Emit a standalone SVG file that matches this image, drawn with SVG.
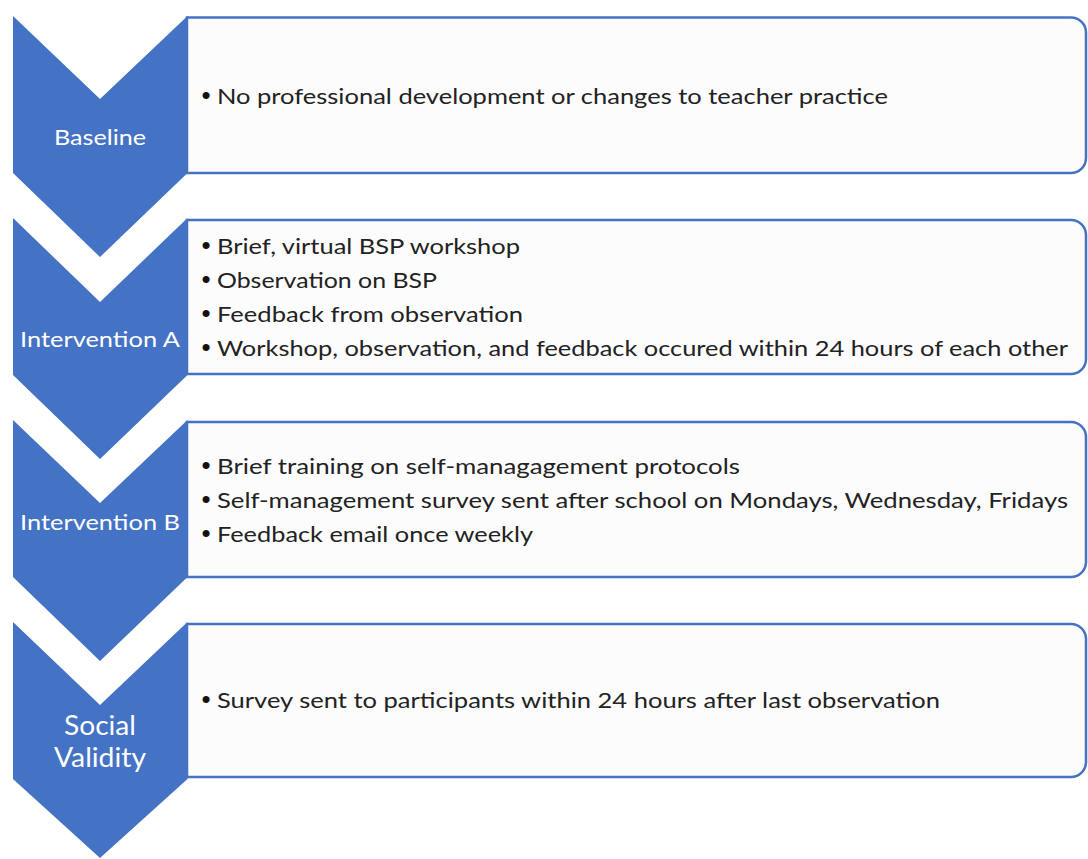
<svg xmlns="http://www.w3.org/2000/svg" width="1088" height="859" viewBox="0 0 1088 859">
  <style>
    .panel { fill: #fcfcfc; stroke: #4472c4; stroke-width: 2.5; }
    .chev { fill: #4472c4; }
    .label { font-family: Lato, "Liberation Sans", sans-serif; font-size: 22px; fill: #ffffff; text-anchor: middle; }
    .label-lg { font-size: 26px; }
    .item { font-family: Lato, "Liberation Sans", sans-serif; font-size: 22px; fill: #222222; }
    .dot { font-family: "Liberation Sans", sans-serif; font-size: 26px; fill: #111111; }
  </style>
  <rect width="1088" height="859" fill="#ffffff"/>

  <!-- Stage: Baseline -->
  <g id="stage-baseline">
    <path class="panel" d="M187,17.5 H1071 A15,15 0 0 1 1086,32.5 V158 A15,15 0 0 1 1071,173 H187 Z"/>
    <path class="chev" d="M13,16 L100,99 L187.5,16 L187.5,173 L100,257 L13,173 Z"/>
    <text class="label" x="100" y="145" textLength="92" lengthAdjust="spacingAndGlyphs">Baseline</text>
    <text class="dot" x="201.5" y="104">•</text>
    <text class="item" x="217" y="103.5" textLength="671" lengthAdjust="spacingAndGlyphs">No professional development or changes to teacher practice</text>
  </g>

  <!-- Stage: Intervention A -->
  <g id="stage-intervention-a">
    <path class="panel" d="M187,220 H1071 A15,15 0 0 1 1086,235 V359 A15,15 0 0 1 1071,374 H187 Z"/>
    <path class="chev" d="M13,218 L100,302 L187.5,218 L187.5,375 L100,459 L13,375 Z"/>
    <text class="label" x="100" y="347" textLength="160" lengthAdjust="spacingAndGlyphs">Intervention A</text>
    <text class="dot" x="201.5" y="254">•</text>
    <text class="item" x="217" y="253.5" textLength="303" lengthAdjust="spacingAndGlyphs">Brief, virtual BSP workshop</text>
    <text class="dot" x="201.5" y="288">•</text>
    <text class="item" x="217" y="287.5" textLength="220" lengthAdjust="spacingAndGlyphs">Observation on BSP</text>
    <text class="dot" x="201.5" y="322">•</text>
    <text class="item" x="217" y="321.5" textLength="306" lengthAdjust="spacingAndGlyphs">Feedback from observation</text>
    <text class="dot" x="201.5" y="356">•</text>
    <text class="item" x="217" y="355.5" textLength="851" lengthAdjust="spacingAndGlyphs">Workshop, observation, and feedback occured within 24 hours of each other</text>
  </g>

  <!-- Stage: Intervention B -->
  <g id="stage-intervention-b">
    <path class="panel" d="M187,422 H1071 A15,15 0 0 1 1086,437 V562 A15,15 0 0 1 1071,577 H187 Z"/>
    <path class="chev" d="M13,420 L100,503 L187.5,420 L187.5,577 L100,661 L13,577 Z"/>
    <text class="label" x="100" y="530" textLength="160" lengthAdjust="spacingAndGlyphs">Intervention B</text>
    <text class="dot" x="201.5" y="474">•</text>
    <text class="item" x="217" y="473.5" textLength="523" lengthAdjust="spacingAndGlyphs">Brief training on self-managagement protocols</text>
    <text class="dot" x="201.5" y="508">•</text>
    <text class="item" x="217" y="507.5" textLength="851" lengthAdjust="spacingAndGlyphs">Self-management survey sent after school on Mondays, Wednesday, Fridays</text>
    <text class="dot" x="201.5" y="542">•</text>
    <text class="item" x="217" y="541.5" textLength="316" lengthAdjust="spacingAndGlyphs">Feedback email once weekly</text>
  </g>

  <!-- Stage: Social Validity -->
  <g id="stage-social-validity">
    <path class="panel" d="M187,624 H1071 A15,15 0 0 1 1086,639 V762 A15,15 0 0 1 1071,777 H187 Z"/>
    <path class="chev" d="M13,622 L100,705 L187.5,622 L187.5,779 L100,858 L13,779 Z"/>
    <text class="label label-lg" x="100" y="735" textLength="72" lengthAdjust="spacingAndGlyphs">Social</text>
    <text class="label label-lg" x="100" y="767" textLength="92" lengthAdjust="spacingAndGlyphs">Validity</text>
    <text class="dot" x="201.5" y="708">•</text>
    <text class="item" x="217" y="707.5" textLength="723" lengthAdjust="spacingAndGlyphs">Survey sent to participants within 24 hours after last observation</text>
  </g>

  <!-- no connectors: stages are linked by the chevron arrows themselves -->
  <g id="connectors"/>
</svg>
